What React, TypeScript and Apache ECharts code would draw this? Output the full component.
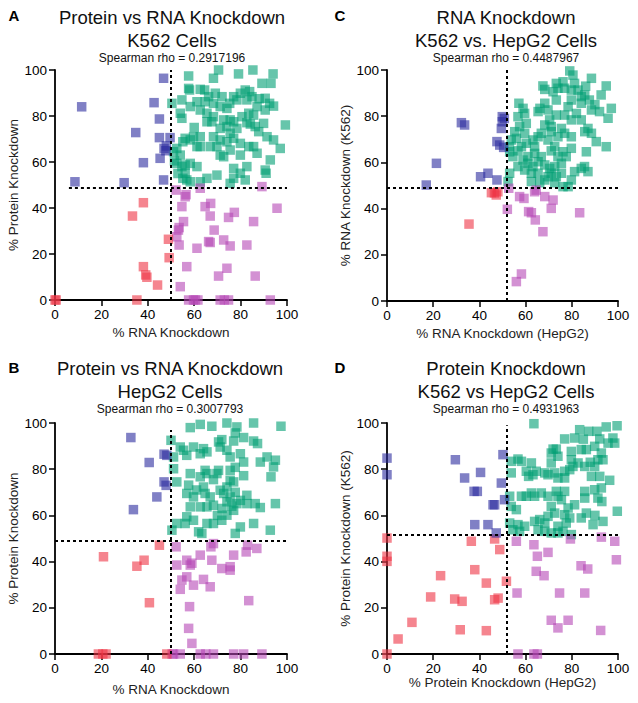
import React, { useEffect, useRef } from "react";
import * as echarts from "echarts";

type P = [number, number][];

// ---------- Panel A: Protein vs RNA Knockdown, K562 ----------
const aTeal: P = [[57.6,97.4],[70.5,100],[68.3,96.4],[79.1,98.3],[85.3,100],[94,98.3],[93.1,94.2],[89.2,94.2],[57.6,92],[58,91.3],[62.6,91.6],[64.5,91.3],[66.2,88.4],[69.1,89.9],[72,88.4],[77,88.4],[79.9,89.9],[82,91.3],[83.9,90.6],[84.9,88.4],[90.6,87.7],[92.5,85.5],[90.6,82.6],[87.1,84.1],[82.7,87],[78.4,87],[75.3,85.5],[74.1,83.3],[71.2,84.1],[68.3,85.5],[64.7,86.2],[61.2,86.2],[58.3,84.1],[54.7,87],[50.4,85.5],[54,81.2],[54.7,79],[62.6,82.6],[65.5,81.2],[68.3,79.7],[65.5,77.5],[72.7,78.3],[75.5,78.3],[77,77.5],[80.6,79.7],[83.5,81.2],[85.6,80.4],[82.7,77.1],[84.2,76.5],[89.9,76.8],[94.2,84.3],[99.3,76.1],[91.4,71],[94.2,69.6],[97.1,65.9],[92.8,60.9],[90.6,56.5],[91,55.1],[87.1,63.8],[83.5,66.7],[79.9,68.1],[77,70.3],[75.5,72.5],[74.1,68.8],[71.2,69.6],[68.3,71],[66.9,66.7],[62.6,71],[59.7,71],[58.3,69.6],[56.1,70.3],[55.1,68.8],[62.6,66.7],[61.2,66.7],[52.5,65.9],[51.1,64.5],[54,63],[52.5,59.4],[54.7,58],[56.1,58.7],[58.3,59.4],[61.2,58],[56.1,55.1],[55.1,52.9],[56.8,52.2],[58.3,51.4],[62.6,51.4],[65.5,52.9],[69.8,54.3],[72.7,62.3],[77,57.2],[77,52.9],[75.5,50.7],[79.9,55.1],[82,52.2],[82.7,58],[79.9,63],[85.6,66.7],[75.5,65.2],[71.2,63],[69.8,66.7],[74.1,75.4],[71.2,74.6],[67.6,77.5],[78.4,74.6],[86.3,75.4],[87.8,73.2],[51.5,60.5],[53,55],[88,87.5],[60,75]];
const aPurple: P = [[52.2,47.8],[56.1,44.9],[56.5,45.8],[54.7,40.6],[55.4,34.1],[53.2,30.4],[52.5,27.5],[53.5,23.9],[56.8,14.5],[54,5.8],[61.2,22.5],[62.6,48.6],[64.7,40.6],[67.1,42],[66.9,36.5],[68.6,30.4],[66.2,25.4],[66.9,25],[70.5,10.4],[72.7,26.1],[75.5,23.5],[74.8,35.9],[77.3,38.1],[74.1,13.8],[82.7,23.9],[85.6,34.1],[86.3,10.4],[89.2,49.3],[95.7,39.9],[57.6,0],[59.7,0],[61.6,0],[60.5,0],[71.2,0],[73,0],[74.8,0],[92.8,0],[53.5,31.5]];
const aRed: P = [[0,0],[33.4,36.5],[38.1,42.3],[38.1,14.5],[39.1,10.9],[39.6,9.9],[44.2,6.5],[48.9,26.4],[49.2,18.4],[35.3,0],[0.5,0]];
const aBlue: P = [[11.5,84],[8.6,51.4],[29.8,51],[34.8,72.8],[38.1,59.7],[42.7,85.8],[45,78.7],[46.8,96.4],[45,70.6],[49.6,70.6],[47,65.9],[45.3,61.6],[46.8,52.2],[47.8,64.9],[48,67]];

// ---------- Panel C: RNA Knockdown, K562 vs HepG2 ----------
const cTeal: P = [[79.1,99.6],[80.5,97.8],[88.5,96.4],[94.9,93.1],[92.7,89.2],[97.1,83.4],[95.7,79.1],[94.9,66.8],[90.6,69],[86.3,64.6],[84.1,57.4],[85.5,58.2],[81.2,56],[78.4,49.5],[79.8,52.4],[87,56],[88.5,82.7],[87.6,87],[85.6,89.2],[84.1,85.6],[82.7,91.3],[79.8,91.3],[76.9,92.1],[74,92.1],[71.9,90.6],[68.3,91.6],[67.5,93.1],[73.3,94.2],[76.2,94.9],[81.2,94.2],[84.1,88.5],[79.8,87],[78.4,84.1],[76.9,80.5],[79.8,78.4],[82,81.2],[84.1,78.4],[87,74.7],[85.6,73.3],[88.5,72.6],[79.8,71.1],[76.9,72.6],[75.5,74.7],[74,71.1],[72.6,66.8],[76.2,64.6],[79.8,66.1],[77.6,62.5],[75.5,59.6],[72.6,58.2],[70.4,57.4],[68.3,58.9],[65.4,60.3],[66.8,62.5],[63.9,63.9],[61,62.5],[58.9,61],[56.7,58.2],[59.6,56.7],[62.5,55.3],[65.4,55.3],[69.7,53.8],[73.3,53.8],[75.5,55.3],[71.1,55.3],[53.1,55.3],[52.4,51.7],[54.5,62.5],[53.1,64.6],[53,66.8],[56,70.4],[55.3,73.3],[57.4,75.5],[56.7,79.8],[57.1,85.6],[58.9,83.4],[59.6,81.2],[60.3,76.9],[59.6,72.6],[60.3,68.3],[63.2,69.7],[65.4,71.1],[66.8,72.6],[65.4,82],[66.2,83.4],[68.3,85.6],[69.7,82.7],[70.4,78.4],[68.3,76.2],[71.1,73.3],[71.1,75.5],[73.3,80.5],[73.3,87],[63.9,66.8],[53.8,69.7],[56.7,65],[58.2,66.8],[61,59.6],[63.2,58.2],[68.3,52.4],[66.1,51.2],[72.6,51.2],[62.5,51.7],[76.2,49.5],[71.1,65],[69.7,69.7],[74,62.5],[90,85],[92,82],[86,93]];
const cPurple: P = [[52.7,48.8],[52.1,39.7],[57.4,45.2],[59.3,44.4],[63.9,47.3],[64.6,48],[61.3,38.7],[62.5,38.2],[64.2,35.1],[67.5,30],[68.3,45.2],[71.9,43.7],[71.1,40.1],[83.4,38.2],[56,8.4],[58.2,11.7]];
const cRed: P = [[35.5,33.3],[45.2,46.9],[47.3,45.9],[48,47.3],[46.5,46.8]];
const cBlue: P = [[17,50.2],[21.4,59.6],[32.2,77.2],[33.6,76.2],[40.5,53.8],[43.7,55.3],[47.6,52.4],[47.6,69],[48.8,67.5],[49.9,79.8],[49.9,77.6],[49.5,74.7],[50.5,66.5],[50.8,79]];

// ---------- Panel B: Protein vs RNA Knockdown, HepG2 ----------
const bTeal: P = [[58.3,98],[62.6,99.4],[67.6,98.6],[74.1,100],[78.4,98.3],[85.6,100],[97.4,98.6],[77.7,95.7],[77,92.2],[81.3,93.7],[85.6,92.2],[87.3,91.1],[71.9,92.8],[70.5,91.8],[71.2,89.6],[74.1,88.2],[79.9,86.7],[75.5,85.3],[81.3,83.1],[88.5,83.1],[91.4,85.3],[95,83.9],[94.2,81],[93.1,76.7],[95,65.1],[92.8,53.6],[85.6,56.5],[79.9,55],[77.7,52.2],[88.5,63.4],[86.3,65.1],[82.7,65.1],[82.7,68.7],[81.3,77.2],[77.7,80.8],[75.5,79.5],[75.5,75.2],[77,74.5],[74.1,72.3],[75.5,68],[74.1,65.9],[72.7,69.5],[71.2,70.9],[69.8,78.1],[70.5,79.5],[65.5,78.1],[62.6,76.7],[58.3,78.1],[57.6,73.1],[56.8,69.5],[59.7,68],[61,71],[64,72.3],[64.7,69.5],[66.9,68],[68.3,64.4],[65.5,63.7],[62.6,63.7],[58.3,63.7],[56.8,59.4],[56.1,56.5],[59.7,57.9],[61.9,52.9],[63.3,52.2],[65.5,56.5],[68.3,56.5],[71.9,57.9],[74.1,60.1],[77,62.2],[78.4,65.1],[79.9,66.5],[52.5,56.5],[50.4,53.6],[50,92.5],[51.1,85.3],[51.1,80.2],[54,89.6],[55.4,88.2],[56.8,86],[59.7,89.6],[64,88.9],[62.6,86.7],[65.5,87.5],[52.5,74.5],[64.7,79.5],[68.3,75.5],[77.7,70],[76.2,64],[72,63],[70,60]];
const bPurple: P = [[52.2,46.4],[52.5,38.5],[54.7,32],[54,28],[56.8,40.6],[58.3,38.5],[59,39.3],[56.8,33.4],[59.7,29.8],[58,20.5],[57.6,11.1],[59,4.6],[62.6,42.8],[64,32.3],[66.9,29.1],[67.2,46.4],[68.3,47.8],[67.6,40.6],[71.9,37],[75.5,37.8],[77,42.8],[75.5,36.3],[83,47.1],[82.4,44.2],[87,45.7],[83.5,23.1],[51.1,0],[54,0],[50.5,0],[62.6,0],[65,0],[68.3,0],[77,0],[81.3,0],[89.2,0]];
const bRed: P = [[20.9,42.1],[35.3,38],[38.4,40.6],[40.7,22.2],[45,47.1],[18.7,0],[20.6,0],[22,0],[48.2,0]];
const bBlue: P = [[32.7,93.7],[40.6,82.9],[43.9,68],[33.8,62.5],[47,86.5],[48.2,86],[47,74.5],[47.9,73]];

// ---------- Panel D: Protein Knockdown, K562 vs HepG2 ----------
const dTeal: P = [[63.6,99.7],[99.6,98.8],[94.9,98.3],[90.9,96.4],[87.3,96.4],[83.4,97.1],[81.2,93.5],[76.9,93.1],[71.9,88.7],[71.1,87],[74,85.6],[79.8,87.7],[84.1,88.5],[86.3,88.5],[89.9,89.9],[92.1,93.1],[95.7,91.3],[98.6,91.3],[97.8,93.5],[92.8,87],[91.3,84.1],[93.5,84.1],[89.9,81.2],[88.5,76.9],[92.1,76.9],[96.4,75.2],[92.8,71.9],[89.9,71.1],[85.6,70.4],[85.6,67.5],[91.3,67.5],[89.2,56],[93.5,57.4],[99.7,61.8],[86.3,61],[84.1,58.9],[81.2,64.6],[78.4,63.2],[76.9,60.3],[79.1,58.9],[77.6,56.7],[79.8,51.7],[76.2,53.1],[74,55.3],[71.1,63.9],[72.6,61],[69.7,59.6],[68.3,56.7],[66.1,58.2],[63.9,57.4],[68.3,53.1],[71.1,52.4],[74,52.4],[65.4,53.8],[59.6,55.3],[57.4,53.1],[56.7,56],[54.5,53.8],[53.1,56.7],[53.8,63.9],[56,62.5],[53.1,68.3],[58.2,68.3],[60.3,68.3],[62.5,69.7],[63.9,68.3],[66.8,69.7],[69.7,68.3],[74,68.3],[75.5,66.8],[76.9,70.4],[73.3,70.4],[60.3,79.1],[61.3,76.9],[63.2,77.6],[64.6,79.1],[68.3,78.4],[69.7,77.6],[72.6,78.4],[74,76.2],[76.9,76.2],[76.9,79.1],[79.1,79.8],[80.5,81.2],[82.7,82.7],[79.8,84.1],[85.6,81.2],[53.8,83.4],[56.7,84.4],[53.8,78.4],[62.5,82.7],[58.2,83.4],[71.1,82.7],[73.3,88.7],[88,83],[90,60],[93,66],[85,93]];
const dPurple: P = [[56,48.8],[63.6,47.3],[65.1,42.3],[69.7,44],[64.6,35.8],[68,33.9],[56.3,26.4],[74.7,26.4],[85.6,26.4],[84,38.2],[86.9,36.8],[79.4,49.8],[92.8,50.6],[98.6,48.8],[99.3,40.8],[71.1,14.6],[74,11.3],[78.4,14.6],[92.5,10.2],[56.7,0],[63.6,0],[65.1,0]];
const dRed: P = [[0,50.2],[0,42.3],[0,40.1],[0,0],[4.8,6.5],[10.8,13.7],[18.9,24.7],[23.2,33.9],[29.3,23.8],[32.5,22.8],[31.7,10.5],[38,36.5],[36.5,48.8],[43,30.7],[43,10.1],[46.6,49.8],[48.8,45.2],[46.6,23.5],[48.1,24.2],[51.7,31.5]];
const dBlue: P = [[0,84.8],[0,77.6],[29.6,84.1],[33.6,76.2],[40.5,78.6],[37.7,70.4],[39.1,70.4],[45.9,64.6],[46.6,64.6],[38,56],[43.7,56],[47.3,52.4],[49.5,74],[50.2,86.3],[50.9,66.8]];

// Thresholds [vertical x, vertical top, horizontal y, horizontal start x]
const thresholdsA = [50, 100, 49, 6];
const thresholdsC = [52, 100, 49.2, 0];
const thresholdsB = [50, 97, 49, 0];
const thresholdsD = [52, 99, 51.5, 0];

const titlesLine1 = ["Protein vs RNA Knockdown", "RNA Knockdown", "Protein vs RNA Knockdown", "Protein Knockdown"];
const titlesLine2 = ["K562 Cells", "K562 vs. HepG2 Cells", "HepG2 Cells", "K562 vs HepG2 Cells"];
const rhoLabels = ["Spearman rho = 0.2917196", "Spearman rho = 0.4487967", "Spearman rho = 0.3007793", "Spearman rho = 0.4931963"];
const panelLetters = ["A", "C", "B", "D"];
const xNames = ["% RNA Knockdown", "% RNA Knockdown (HepG2)", "% RNA Knockdown", "% Protein Knockdown (HepG2)"];
const yNames = ["% Protein Knockdown", "% RNA Knockdown (K562)", "% Protein Knockdown", "% Protein Knockdown (K562)"];

const FONT = "'Liberation Sans', Arial, Helvetica, sans-serif";
const COLORS = { teal: "#009E73", purple: "#b548b5", red: "#ee3344", blue: "#2b2b9e" };

const panels = [
  { left: 55, top: 70, width: 232, height: 230, cx: 172, ty: 17, xGap: 25, yGap: 33, lx: 14, ly: 15, data: [aTeal, aPurple, aRed, aBlue], th: thresholdsA },
  { left: 387, top: 70, width: 231, height: 231, cx: 506, ty: 17, xGap: 25, yGap: 34, lx: 340, ly: 15, data: [cTeal, cPurple, cRed, cBlue], th: thresholdsC },
  { left: 55, top: 423, width: 232, height: 231, cx: 170, ty: 368, xGap: 28, yGap: 33, lx: 14, ly: 367, data: [bTeal, bPurple, bRed, bBlue], th: thresholdsB },
  { left: 387, top: 423, width: 231, height: 231, cx: 506, ty: 368, xGap: 21, yGap: 34, lx: 340, ly: 367, data: [dTeal, dPurple, dRed, dBlue], th: thresholdsD },
];

export default function App() {
  const ref = useRef<HTMLDivElement>(null);
  useEffect(() => {
    if (!ref.current) return;
    const chart = echarts.init(ref.current, undefined, { renderer: "svg" });
    const axisCommon = {
      type: "value" as const,
      min: 0,
      max: 100,
      interval: 20,
      nameLocation: "middle" as const,
      nameTextStyle: { fontSize: 13.5, color: "#222", fontFamily: FONT },
      axisLine: { show: true, onZero: false, lineStyle: { color: "#000", width: 1.8 } },
      axisTick: { show: true, length: 6, lineStyle: { color: "#000", width: 1.5 } },
      axisLabel: { color: "#000", fontSize: 13.5, fontFamily: FONT, margin: 8 },
      splitLine: { show: false },
    };
    const grids = panels.map((p) => ({ left: p.left, top: p.top, width: p.width, height: p.height }));
    const xAxes = panels.map((p, i) => ({ ...axisCommon, gridIndex: i, name: xNames[i], nameGap: p.xGap, axisLabel: { ...axisCommon.axisLabel, margin: 7 } }));
    const yAxes = panels.map((p, i) => ({ ...axisCommon, gridIndex: i, name: yNames[i], nameGap: p.yGap }));
    const series: any[] = [];
    panels.forEach((p, i) => {
      const cols = [COLORS.teal, COLORS.purple, COLORS.red, COLORS.blue];
      p.data.forEach((d, k) => {
        const s: any = {
          type: "scatter",
          xAxisIndex: i,
          yAxisIndex: i,
          data: d,
          symbol: "rect",
          symbolSize: 9.5,
          clip: false,
          silent: true,
          itemStyle: { color: cols[k], opacity: 0.6 },
        };
        if (k === 3) {
          const [vx, vTop, hy, hx0] = p.th;
          s.markLine = {
            silent: true,
            z: 10,
            symbol: ["none", "none"],
            label: { show: false },
            lineStyle: { color: "#000", width: 2, type: [3, 3], opacity: 1 },
            data: [
              [{ coord: [vx, 0] }, { coord: [vx, vTop] }],
              [{ coord: [hx0, hy] }, { coord: [100, hy] }],
            ],
          };
        }
        series.push(s);
      });
    });
    const graphics: any[] = [];
    panels.forEach((p, i) => {
      graphics.push({ type: "text", x: p.cx, y: p.ty, style: { text: titlesLine1[i], fontSize: 18.5, fontFamily: FONT, fill: "#111", textAlign: "center", textVerticalAlign: "middle" } });
      graphics.push({ type: "text", x: p.cx, y: p.ty + 23.5, style: { text: titlesLine2[i], fontSize: 18.5, fontFamily: FONT, fill: "#111", textAlign: "center", textVerticalAlign: "middle" } });
      graphics.push({ type: "text", x: p.cx, y: p.ty + 41, style: { text: rhoLabels[i], fontSize: 12, fontFamily: FONT, fill: "#111", textAlign: "center", textVerticalAlign: "middle" } });
      graphics.push({ type: "text", x: p.lx, y: p.ly, style: { text: panelLetters[i], fontSize: 15, fontWeight: "bold", fontFamily: FONT, fill: "#000", textAlign: "center", textVerticalAlign: "middle" } });
    });
    chart.setOption({
      animation: false,
      backgroundColor: "#fff",
      grid: grids,
      xAxis: xAxes,
      yAxis: yAxes,
      series,
      graphic: graphics,
    });
    return () => chart.dispose();
  }, []);
  return <div ref={ref} style={{ position: "absolute", left: 0, top: 0, width: 638, height: 703 }} />;
}
